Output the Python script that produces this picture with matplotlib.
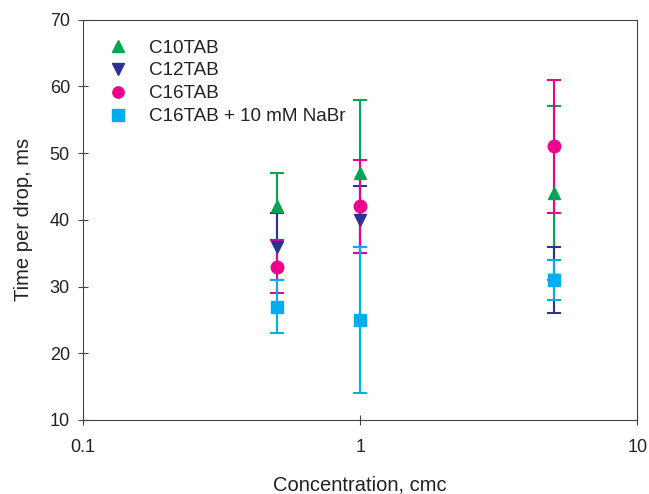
import numpy as np
import matplotlib
matplotlib.use("Agg")
import matplotlib.pyplot as plt

plt.rcParams['font.family'] = ['Liberation Sans', 'DejaVu Sans']

conc = [0.5, 1, 5]
labels = ["C10TAB", "C12TAB", "C16TAB", "C16TAB + 10 mM NaBr"]
c10_time = [42, 47, 44]
c10_err = [5, 11, 13]
c12_time = [36, 40, 31]
c12_err = [5, 5, 5]
c16_time = [33, 42, 51]
c16_err = [4, 7, 10]
nabr_time = [27, 25, 31]
nabr_err = [4, 11, 3]

series = [
    (c10_time, c10_err, '^', '#00a651'),
    (c12_time, c12_err, 'v', '#2e3192'),
    (c16_time, c16_err, 'o', '#ec008c'),
    (nabr_time, nabr_err, 's', '#00aeef'),
]

fig = plt.figure(figsize=(6.49, 4.94), dpi=100)
ax = fig.add_axes([0.128, 0.150, 0.854, 0.810])

for (t, e, m, c), lab in zip(series, labels):
    ax.errorbar(conc, t, yerr=e, fmt=m, color=c, ms=9, capsize=5,
                elinewidth=1.5, capthick=1.5, label=lab)

ax.set_xscale('log')
ax.set_xlim(0.1, 10)
ax.set_ylim(10, 70)
ax.set_yticks(range(10, 71, 10))
ax.set_xticks([0.1, 1, 10])
ax.set_xticklabels(['0.1', '1', '10'])
ax.minorticks_off()
ax.tick_params(labelsize=13, labelcolor='#222222', direction='inout',
               length=7, color='#444444')
ax.tick_params(axis='x', pad=10)
ax.tick_params(axis='y', pad=6)
for s in ax.spines.values():
    s.set_color('#444444')
ax.set_xlabel('Concentration, cmc', fontsize=14.5, labelpad=14, color='#222222')
ax.set_ylabel('Time per drop, ms', fontsize=14.5, labelpad=12, color='#222222')

handles, labs = ax.get_legend_handles_labels()
handles = [h[0] for h in handles]
leg = ax.legend(handles, labs, loc='upper left', frameon=False, fontsize=13.6,
                handletextpad=0.65, labelspacing=0.3, borderaxespad=0.0,
                bbox_to_anchor=(0.015, 0.97), markerscale=0.9)
for txt in leg.get_texts():
    txt.set_color('#222222')

fig.savefig('out.png', dpi=100)
